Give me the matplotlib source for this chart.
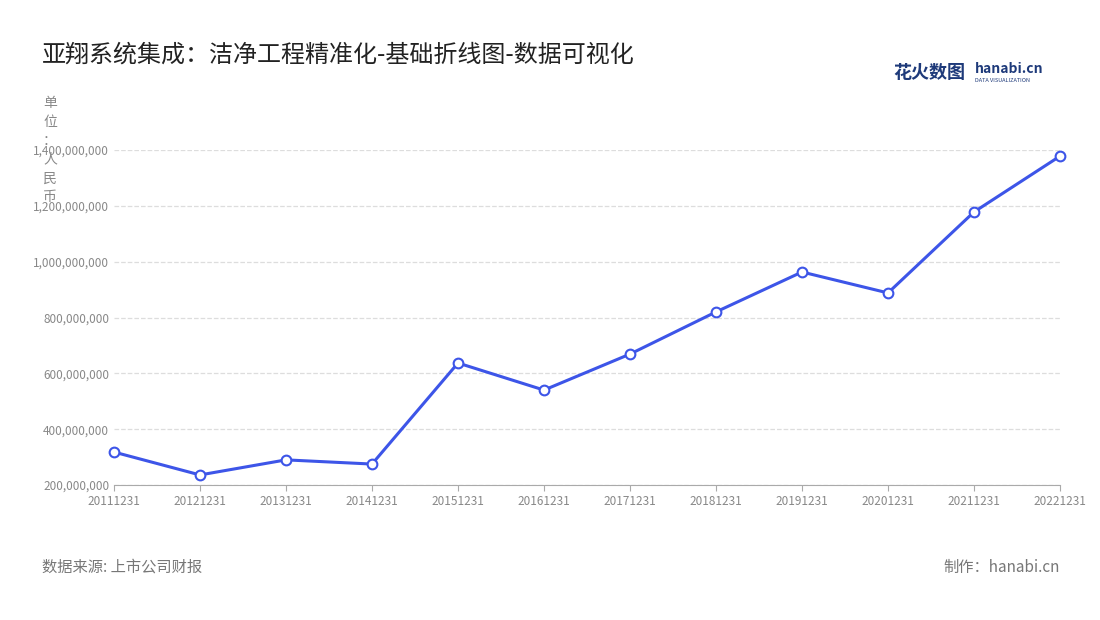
import matplotlib
matplotlib.use("Agg")
import matplotlib.pyplot as plt
from matplotlib.ticker import FuncFormatter

plt.rcParams['font.family'] = ['Noto Sans CJK SC', 'DejaVu Sans']

dates = ["20111231","20121231","20131231","20141231","20151231","20161231",
         "20171231","20181231","20191231","20201231","20211231","20221231"]
values = [318e6, 236e6, 290e6, 275e6, 637e6, 540e6, 669e6, 820e6, 963e6, 888e6, 1178e6, 1378e6]
yticks = [200e6, 400e6, 600e6, 800e6, 1000e6, 1200e6, 1400e6]

fig = plt.figure(figsize=(11, 6.2), dpi=100)
ax = fig.add_axes([114/1100, 135/620, 946/1100, 335/620])
x = list(range(len(dates)))
ax.plot(x, values, color='#3d55e8', lw=2.2, marker='o', ms=7,
        mfc='white', mec='#3d55e8', mew=1.5, zorder=3, clip_on=False)
ax.set_xlim(0, len(dates)-1)
ax.set_ylim(200e6, 1400e6)
ax.set_yticks(yticks)
ax.yaxis.set_major_formatter(FuncFormatter(lambda v, p: f"{int(v):,}"))
ax.set_xticks(x)
ax.set_xticklabels(dates)
ax.tick_params(axis='both', labelsize=8.5, colors='#888888', length=0)
ax.tick_params(axis='x', length=4, color='#aaaaaa')
ax.grid(axis='y', ls='--', color='#dddddd', lw=0.9)
for s in ['top', 'right', 'left']:
    ax.spines[s].set_visible(False)
ax.spines['bottom'].set_color('#aaaaaa')

fig.text(42/1100, 1-55/620, "亚翔系统集成：洁净工程精准化-基础折线图-数据可视化",
         fontsize=17.3, color='#222222', va='center')
fig.text(50/1100, 1-150/620, "单\n位\n：\n人\n民\n币", fontsize=10, color='#888888',
         ha='center', va='center', linespacing=1.45)
fig.text(42/1100, 1-567/620, "数据来源: 上市公司财报", fontsize=11, color='#777777', va='center')
fig.text(1060/1100, 1-567/620, "制作：hanabi.cn", fontsize=11, color='#777777', va='center', ha='right')
fig.text(893/1100, 1-72/620, "花火数图", fontsize=13, color='#1e3a7a', va='center', fontweight='bold')
fig.text(975/1100, 1-69/620, "hanabi.cn", fontsize=10, color='#1e3a7a', va='center', fontweight='bold')
fig.text(975/1100, 1-80/620, "DATA VISUALIZATION", fontsize=4, color='#1e3a7a', va='center')

fig.savefig("out.png", dpi=100)
